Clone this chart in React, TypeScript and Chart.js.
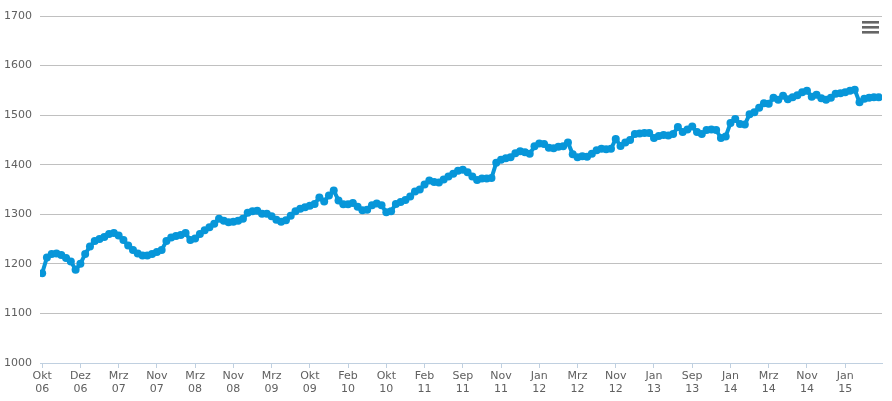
import { useEffect, useRef } from 'react';
import { Chart, registerables } from 'chart.js';

Chart.register(...registerables);

// one label every 8th point
const tickLabels = [
  'Okt 06', 'Dez 06', 'Mrz 07', 'Nov 07', 'Mrz 08', 'Nov 08', 'Mrz 09', 'Okt 09',
  'Feb 10', 'Okt 10', 'Feb 11', 'Sep 11', 'Nov 11', 'Jan 12', 'Mrz 12', 'Nov 12',
  'Jan 13', 'Sep 13', 'Jan 14', 'Mrz 14', 'Nov 14', 'Jan 15',
];

const values = [
  1181, 1213, 1220, 1221, 1218, 1212, 1205, 1188, 1200, 1220,
  1235, 1246, 1250, 1254, 1260, 1262, 1257, 1248, 1237, 1228,
  1221, 1217, 1217, 1220, 1224, 1228, 1246, 1253, 1256, 1258,
  1262, 1248, 1251, 1260, 1268, 1274, 1281, 1291, 1287, 1284,
  1285, 1287, 1291, 1303, 1306, 1307, 1301, 1301, 1296, 1289,
  1285, 1288, 1297, 1306, 1311, 1314, 1317, 1321, 1334, 1326,
  1338, 1348, 1328, 1320, 1320, 1323, 1315, 1308, 1309, 1318,
  1322, 1318, 1304, 1306, 1321, 1325, 1329, 1336, 1346, 1350,
  1360, 1368, 1365, 1364, 1370, 1376, 1382, 1388, 1390, 1385,
  1376, 1369, 1372, 1372, 1373, 1404, 1410, 1413, 1415, 1423,
  1427, 1425, 1422, 1437, 1443, 1442, 1434, 1433, 1436, 1437,
  1445, 1421, 1415, 1417, 1416, 1422, 1429, 1432, 1431, 1432,
  1452, 1438, 1445, 1450, 1462, 1463, 1464, 1464, 1454, 1458,
  1460, 1459, 1462, 1476, 1466, 1471, 1477, 1466, 1462, 1470,
  1471, 1470, 1454, 1457, 1484, 1492, 1482, 1481, 1502, 1506,
  1515, 1524, 1523, 1535, 1531, 1539, 1532, 1536, 1540, 1546,
  1549, 1537, 1541, 1534, 1531, 1535, 1543, 1544, 1546, 1549,
  1551, 1526, 1533, 1535, 1536, 1536,
];

const FONT = { family: 'DejaVu Sans', size: 11 };
const BLUE = '#0796d9';

const menuButton = {
  id: 'menuButton',
  afterDraw(chart: Chart) {
    const ctx = chart.ctx;
    ctx.save();
    ctx.fillStyle = '#666666';
    [21, 26, 31].forEach((y) => ctx.fillRect(862, y, 17, 2.6));
    ctx.restore();
  },
};

export default function App() {
  const canvasRef = useRef<HTMLCanvasElement>(null);
  const chartRef = useRef<Chart | null>(null);

  useEffect(() => {
    document.body.style.margin = '0';
    if (!canvasRef.current) return;
    if (chartRef.current) chartRef.current.destroy();
    const ctx = canvasRef.current.getContext('2d');
    if (!ctx) return;

    chartRef.current = new Chart(ctx, {
      type: 'line',
      data: {
        datasets: [
          {
            data: values.map((v, i) => ({ x: i, y: v })),
            borderColor: BLUE,
            backgroundColor: BLUE,
            borderWidth: 4,
            pointRadius: 4,
            pointBorderWidth: 0,
            tension: 0,
          },
        ],
      },
      options: {
        responsive: true,
        maintainAspectRatio: false,
        animation: false,
        layout: { padding: { top: 16, right: 10, left: 0, bottom: 0 } },
        plugins: { legend: { display: false }, tooltip: { enabled: false } },
        scales: {
          x: {
            type: 'linear',
            min: -0.45,
            max: 175.7,
            afterBuildTicks: (scale) => {
              scale.ticks = tickLabels.map((_, i) => ({ value: i * 8 }));
            },
            afterFit: (scale) => {
              scale.height = 38;
            },
            ticks: {
              autoSkip: false,
              maxRotation: 0,
              padding: 1,
              color: '#606060',
              font: { ...FONT, lineHeight: 1.25 },
              callback: (val) => {
                const l = tickLabels[Math.round(Number(val) / 8)];
                return l ? l.split(' ') : '';
              },
            },
            grid: { drawOnChartArea: false, drawTicks: true, tickLength: 5, color: '#C0D0E0' },
            border: { color: '#C0D0E0' },
          },
          y: {
            min: 1000,
            max: 1700,
            afterFit: (scale) => {
              scale.width = 40;
            },
            ticks: {
              stepSize: 100,
              padding: 8,
              color: '#606060',
              font: FONT,
              callback: (val) => String(val),
            },
            grid: { color: '#C0C0C0', drawTicks: false },
            border: { display: false },
          },
        },
      },
      plugins: [menuButton],
    });

    return () => {
      if (chartRef.current) {
        chartRef.current.destroy();
        chartRef.current = null;
      }
    };
  }, []);

  return (
    <div style={{ width: 892, height: 401 }}>
      <canvas ref={canvasRef} />
    </div>
  );
}
